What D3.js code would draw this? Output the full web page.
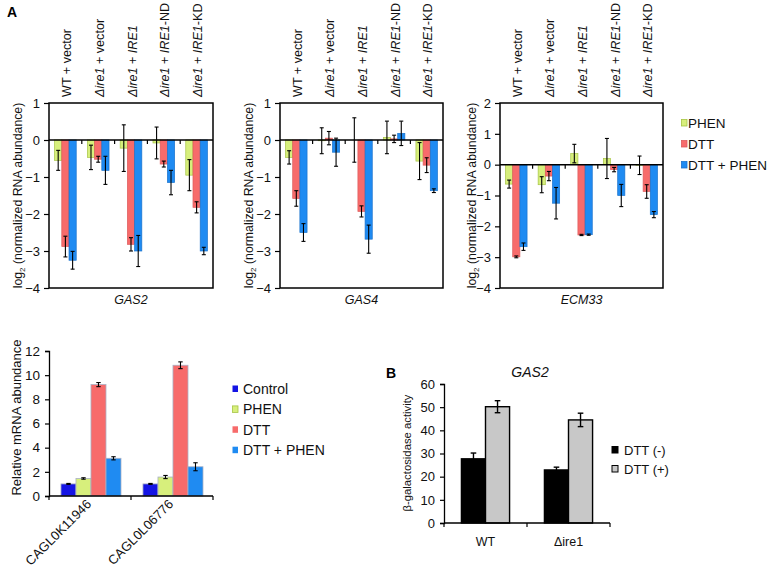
<!DOCTYPE html>
<html><head><meta charset="utf-8">
<script src="https://cdn.jsdelivr.net/npm/d3@7"></script>
<style>body{margin:0;background:#fff}svg{display:block}</style>
</head><body>
<script>
// ---------- DATA ----------
const strainCategories = ["WT + vector", "Δire1 + vector", "Δire1 + IRE1", "Δire1 + IRE1-ND", "Δire1 + IRE1-KD"];
const treatmentSeries = ["PHEN", "DTT", "DTT + PHEN"];

const gas2PHEN = [-0.55, -0.47, -0.22, -0.08, -0.95];
const gas2PHENErr = [0.27, 0.33, 0.63, 0.43, 0.42];
const gas2DTT = [-2.88, -0.52, -2.82, -0.65, -1.82];
const gas2DTTErr = [0.28, 0.08, 0.18, 0.08, 0.15];
const gas2DTTPHEN = [-3.25, -0.82, -3.0, -1.15, -3.0];
const gas2DTTPHENErr = [0.24, 0.38, 0.42, 0.33, 0.1];

const gas4PHEN = [-0.47, -0.02, 0.0, 0.07, -0.57];
const gas4PHENErr = [0.18, 0.35, 0.6, 0.44, 0.5];
const gas4DTT = [-1.58, 0.05, -1.93, 0.03, -0.68];
const gas4DTTErr = [0.21, 0.18, 0.15, 0.1, 0.2];
const gas4DTTPHEN = [-2.5, -0.33, -2.68, 0.18, -1.37];
const gas4DTTPHENErr = [0.24, 0.38, 0.38, 0.33, 0.05];

const ecm33PHEN = [-0.63, -0.65, 0.36, 0.2, -0.02];
const ecm33PHENErr = [0.13, 0.26, 0.3, 0.65, 0.3];
const ecm33DTT = [-2.99, -0.37, -2.28, -0.16, -0.87];
const ecm33DTTErr = [0.03, 0.15, 0.02, 0.07, 0.22];
const ecm33DTTPHEN = [-2.66, -1.25, -2.27, -1.0, -1.62];
const ecm33DTTPHENErr = [0.12, 0.51, 0.02, 0.36, 0.1];

const gasTicksA = [1, 0, -1, -2, -3, -4];
const ecmTicksA = [2, 1, 0, -1, -2, -3, -4];

const cagGenes = ["CAGL0K11946", "CAGL0L06776"];
const cagSeries = ["Control", "PHEN", "DTT", "DTT + PHEN"];
const cagControl = [1.0, 1.0];
const cagControlErr = [0.04, 0.04];
const cagPHEN = [1.45, 1.57];
const cagPHENErr = [0.06, 0.13];
const cagDTT = [9.22, 10.82];
const cagDTTErr = [0.17, 0.28];
const cagDTTPHEN = [3.12, 2.42];
const cagDTTPHENErr = [0.13, 0.33];
const cagTicks = [0, 2, 4, 6, 8, 10, 12];

const galStrains = ["WT", "Δire1"];
const galSeries = ["DTT (-)", "DTT (+)"];
const galMinus = [27.7, 22.9];
const galMinusErr = [2.5, 1.2];
const galPlus = [50.2, 44.5];
const galPlusErr = [2.6, 2.9];
const galTicks = [0, 10, 20, 30, 40, 50, 60];

// ---------- STYLE ----------
const FONT = "'Liberation Sans', Arial, Helvetica, sans-serif";
const colA = {"PHEN": "#d7ef7c", "DTT": "#f76b6b", "DTT + PHEN": "#1f8bf2"};
const strokeA = {"PHEN": "#a6c443", "DTT": "#dc5b5b", "DTT + PHEN": "#1a72cc"};
const colCag = {"Control": "#1414e4", "PHEN": "#d7ef7c", "DTT": "#f76b6b", "DTT + PHEN": "#1f8bf2"};
const colGal = {"DTT (-)": "#000000", "DTT (+)": "#c8c8c8"};

const svg = d3.select("body").append("svg")
  .attr("width", 770).attr("height", 567)
  .style("font-family", FONT);

function italicParts(sel, label) {
  const parts = label.split(/(Δire1|IRE1)/).filter(p => p.length);
  parts.forEach(p => {
    sel.append("tspan").text(p)
      .style("font-style", (p === "Δire1" || p === "IRE1") ? "italic" : "normal");
  });
}

function ylabelLog(x, cy) {
  const t = svg.append("text")
    .attr("transform", `translate(${x},${cy}) rotate(-90)`)
    .attr("text-anchor", "middle").attr("font-size", 12.3).attr("fill", "#111");
  t.append("tspan").text("log");
  t.append("tspan").text("2").attr("font-size", 8).attr("dy", 3);
  t.append("tspan").text(" (normalized RNA abundance)").attr("dy", -3);
}

function panelA(o) {
  const series = [o.phen, o.dtt, o.dp];
  const errs = [o.phenE, o.dttE, o.dpE];
  const x0 = d3.scaleBand().domain(strainCategories).range([o.left, o.right]);
  const bw = x0.bandwidth();
  const x1 = d3.scaleBand().domain(treatmentSeries).range([bw * 0.17, bw * 0.83]);
  const y = d3.scaleLinear().domain(o.domain).range([o.bottom, o.top]);
  const g = svg.append("g");

  const ax = g.append("g").attr("transform", `translate(${o.left},0)`)
    .call(d3.axisLeft(y).tickValues(o.ticks).tickSize(5).tickPadding(4).tickFormat(d3.format("d")));
  ax.select(".domain").remove();
  ax.selectAll("line").attr("stroke", "#000").attr("stroke-width", 1.2);
  ax.selectAll("text").attr("font-size", 13).attr("font-family", FONT).attr("fill", "#111");

  treatmentSeries.forEach((s, si) => {
    strainCategories.forEach((c, ci) => {
      const v = series[si][ci];
      const bx = x0(c) + x1(s);
      g.append("rect")
        .attr("x", bx).attr("width", x1.bandwidth())
        .attr("y", Math.min(y(v), y(0))).attr("height", Math.abs(y(v) - y(0)))
        .attr("fill", colA[s]).attr("stroke", strokeA[s]).attr("stroke-width", 0.7);
    });
  });
  treatmentSeries.forEach((s, si) => {
    strainCategories.forEach((c, ci) => {
      const v = series[si][ci], e = errs[si][ci];
      const cx = x0(c) + x1(s) + x1.bandwidth() / 2;
      const y1 = y(v + e), y2 = y(v - e);
      g.append("line").attr("x1", cx).attr("x2", cx).attr("y1", y1).attr("y2", y2)
        .attr("stroke", "#000").attr("stroke-width", 1.1);
      [y1, y2].forEach(yy => g.append("line").attr("x1", cx - 2).attr("x2", cx + 2)
        .attr("y1", yy).attr("y2", yy).attr("stroke", "#000").attr("stroke-width", 1.1));
    });
  });
  g.append("line").attr("x1", o.left).attr("x2", o.right).attr("y1", y(0)).attr("y2", y(0))
    .attr("stroke", "#000").attr("stroke-width", 1.5);
  strainCategories.slice(1).forEach(c => {
    g.append("line").attr("x1", x0(c)).attr("x2", x0(c)).attr("y1", y(0)).attr("y2", y(0) + 4)
      .attr("stroke", "#000").attr("stroke-width", 1.2);
  });
  g.append("rect").attr("x", o.left).attr("y", o.top)
    .attr("width", o.right - o.left).attr("height", o.bottom - o.top)
    .attr("fill", "none").attr("stroke", "#000").attr("stroke-width", 1.5);

  strainCategories.forEach(c => {
    const t = g.append("text")
      .attr("transform", `translate(${x0(c) + bw / 2 + 5.5},${o.top - 6}) rotate(-90)`)
      .attr("text-anchor", "start").attr("font-size", 12.6).attr("fill", "#111");
    italicParts(t, c);
  });
  g.append("text").attr("x", (o.left + o.right) / 2).attr("y", o.bottom + 16)
    .attr("text-anchor", "middle").attr("font-size", 12.5).attr("font-style", "italic")
    .attr("fill", "#111").text(o.gene);
  ylabelLog(o.ylabX, (o.top + o.bottom) / 2);
}

panelA({left: 49, right: 213, top: 103, bottom: 288, domain: [-4, 1], ticks: gasTicksA,
  phen: gas2PHEN, phenE: gas2PHENErr, dtt: gas2DTT, dttE: gas2DTTErr, dp: gas2DTTPHEN, dpE: gas2DTTPHENErr,
  gene: "GAS2", ylabX: 22});
panelA({left: 280, right: 443, top: 103, bottom: 288, domain: [-4, 1], ticks: gasTicksA,
  phen: gas4PHEN, phenE: gas4PHENErr, dtt: gas4DTT, dttE: gas4DTTErr, dp: gas4DTTPHEN, dpE: gas4DTTPHENErr,
  gene: "GAS4", ylabX: 253});
panelA({left: 500, right: 663, top: 103, bottom: 288, domain: [-4, 2], ticks: ecmTicksA,
  phen: ecm33PHEN, phenE: ecm33PHENErr, dtt: ecm33DTT, dttE: ecm33DTTErr, dp: ecm33DTTPHEN, dpE: ecm33DTTPHENErr,
  gene: "ECM33", ylabX: 476});

treatmentSeries.forEach((s, i) => {
  const cy = 123 + i * 21;
  svg.append("rect").attr("x", 681.5).attr("y", cy - 3.5).attr("width", 5.5).attr("height", 6.5)
    .attr("fill", colA[s]).attr("stroke", strokeA[s]).attr("stroke-width", 0.8);
  svg.append("text").attr("x", 688).attr("y", cy + 4.8).attr("font-size", 13.5)
    .attr("fill", "#111").text(s);
});

svg.append("text").attr("x", 7).attr("y", 17).attr("font-size", 14).attr("font-weight", "bold").text("A");

// ---------- bottom-left CAGL chart ----------
(function () {
  const left = 49, right = 213, top = 351, bottom = 496;
  const vals = [cagControl, cagPHEN, cagDTT, cagDTTPHEN];
  const errs = [cagControlErr, cagPHENErr, cagDTTErr, cagDTTPHENErr];
  const x0 = d3.scaleBand().domain(cagGenes).range([left, right]);
  const bw = x0.bandwidth();
  const x1 = d3.scaleBand().domain(cagSeries).range([bw * 0.146, bw * 0.878]);
  const y = d3.scaleLinear().domain([0, 12]).range([bottom, top]);
  const g = svg.append("g");
  cagSeries.forEach((s, si) => cagGenes.forEach((c, ci) => {
    const v = vals[si][ci];
    g.append("rect").attr("x", x0(c) + x1(s)).attr("width", x1.bandwidth())
      .attr("y", y(v)).attr("height", y(0) - y(v))
      .attr("fill", colCag[s]).attr("stroke", "#a9b0c4").attr("stroke-width", 0.8);
  }));
  cagSeries.forEach((s, si) => cagGenes.forEach((c, ci) => {
    const v = vals[si][ci], e = errs[si][ci];
    const cx = x0(c) + x1(s) + x1.bandwidth() / 2;
    const y1 = y(v + e), y2 = y(v - e);
    g.append("line").attr("x1", cx).attr("x2", cx).attr("y1", y1).attr("y2", y2).attr("stroke", "#000").attr("stroke-width", 1.1);
    [y1, y2].forEach(yy => g.append("line").attr("x1", cx - 2.2).attr("x2", cx + 2.2).attr("y1", yy).attr("y2", yy).attr("stroke", "#000").attr("stroke-width", 1.1));
  }));
  const ay = g.append("g").attr("transform", `translate(${left},0)`)
    .call(d3.axisLeft(y).tickValues(cagTicks).tickSize(4).tickPadding(5));
  ay.select(".domain").attr("stroke", "#000").attr("stroke-width", 1.3);
  ay.selectAll("line").attr("stroke", "#000").attr("stroke-width", 1.2);
  ay.selectAll("text").attr("font-size", 13.5).attr("font-family", FONT).attr("fill", "#111");
  g.append("line").attr("x1", left).attr("x2", right).attr("y1", bottom).attr("y2", bottom).attr("stroke", "#000").attr("stroke-width", 1.5);
  [left, x0(cagGenes[1]), right].forEach(xx => g.append("line").attr("x1", xx).attr("x2", xx)
    .attr("y1", bottom).attr("y2", bottom + 4).attr("stroke", "#000").attr("stroke-width", 1.2));
  cagGenes.forEach(c => {
    g.append("text").attr("transform", `translate(${x0(c) + bw / 2 + 2},${bottom + 9}) rotate(-45)`)
      .attr("text-anchor", "end").attr("font-size", 13).attr("fill", "#111").text(c);
  });
  g.append("text").attr("transform", `translate(21,${(top + bottom) / 2 - 6}) rotate(-90)`)
    .attr("text-anchor", "middle").attr("font-size", 13).attr("fill", "#111").text("Relative mRNA abundance");
  cagSeries.forEach((s, i) => {
    const cy = 389 + i * 20.4;
    g.append("rect").attr("x", 232.5).attr("y", cy - 3.5).attr("width", 5.5).attr("height", 6.5)
      .attr("fill", colCag[s]).attr("stroke", s === "PHEN" ? "#a6c443" : "none").attr("stroke-width", 0.8);
    g.append("text").attr("x", 243).attr("y", cy + 5).attr("font-size", 14).attr("fill", "#111").text(s);
  });
})();

// ---------- panel B ----------
(function () {
  const left = 444, right = 610, top = 384, bottom = 523;
  const vals = [galMinus, galPlus], errs = [galMinusErr, galPlusErr];
  const x0 = d3.scaleBand().domain(galStrains).range([left, right]);
  const bw = x0.bandwidth();
  const x1 = d3.scaleBand().domain(galSeries).range([bw * 0.21, bw * 0.79]);
  const y = d3.scaleLinear().domain([0, 60]).range([bottom, top]);
  const g = svg.append("g");
  galSeries.forEach((s, si) => galStrains.forEach((c, ci) => {
    const v = vals[si][ci];
    g.append("rect").attr("x", x0(c) + x1(s)).attr("width", x1.bandwidth())
      .attr("y", y(v)).attr("height", y(0) - y(v))
      .attr("fill", colGal[s]).attr("stroke", "#000").attr("stroke-width", 1.4);
  }));
  galSeries.forEach((s, si) => galStrains.forEach((c, ci) => {
    const v = vals[si][ci], e = errs[si][ci];
    const cx = x0(c) + x1(s) + x1.bandwidth() / 2;
    const y1 = y(v + e), y2 = y(v - e);
    g.append("line").attr("x1", cx).attr("x2", cx).attr("y1", y1).attr("y2", y2).attr("stroke", "#000").attr("stroke-width", 1.4);
    [y1, y2].forEach(yy => g.append("line").attr("x1", cx - 2.8).attr("x2", cx + 2.8).attr("y1", yy).attr("y2", yy).attr("stroke", "#000").attr("stroke-width", 1.4));
  }));
  const ay = g.append("g").attr("transform", `translate(${left},0)`)
    .call(d3.axisLeft(y).tickValues(galTicks).tickSize(4).tickPadding(5));
  ay.select(".domain").attr("stroke", "#000").attr("stroke-width", 1.3);
  ay.selectAll("line").attr("stroke", "#000").attr("stroke-width", 1.2);
  ay.selectAll("text").attr("font-size", 13).attr("font-family", FONT).attr("fill", "#111");
  g.append("line").attr("x1", left).attr("x2", right).attr("y1", bottom).attr("y2", bottom).attr("stroke", "#000").attr("stroke-width", 1.5);
  [left, x0(galStrains[1]), right].forEach(xx => g.append("line").attr("x1", xx).attr("x2", xx)
    .attr("y1", bottom).attr("y2", bottom + 4).attr("stroke", "#000").attr("stroke-width", 1.2));
  galStrains.forEach(c => {
    g.append("text").attr("x", x0(c) + bw / 2).attr("y", 546).attr("text-anchor", "middle")
      .attr("font-size", 12.5).attr("fill", "#111").text(c);
  });
  g.append("text").attr("x", 530).attr("y", 377).attr("text-anchor", "middle")
    .attr("font-size", 14).attr("font-style", "italic").attr("fill", "#111").text("GAS2");
  g.append("text").attr("transform", `translate(411,453) rotate(-90)`)
    .attr("text-anchor", "middle").attr("font-size", 11.3).attr("fill", "#111").text("β-galactosidase activity");
  galSeries.forEach((s, i) => {
    const cy = 450 + i * 19;
    g.append("rect").attr("x", 612).attr("y", cy - 3.5).attr("width", 6).attr("height", 6.5)
      .attr("fill", colGal[s]).attr("stroke", "#000").attr("stroke-width", 1);
    g.append("text").attr("x", 624).attr("y", cy + 5).attr("font-size", 13).attr("fill", "#111").text(s);
  });
  svg.append("text").attr("x", 386).attr("y", 378).attr("font-size", 14).attr("font-weight", "bold").text("B");
})();
</script>
</body></html>
